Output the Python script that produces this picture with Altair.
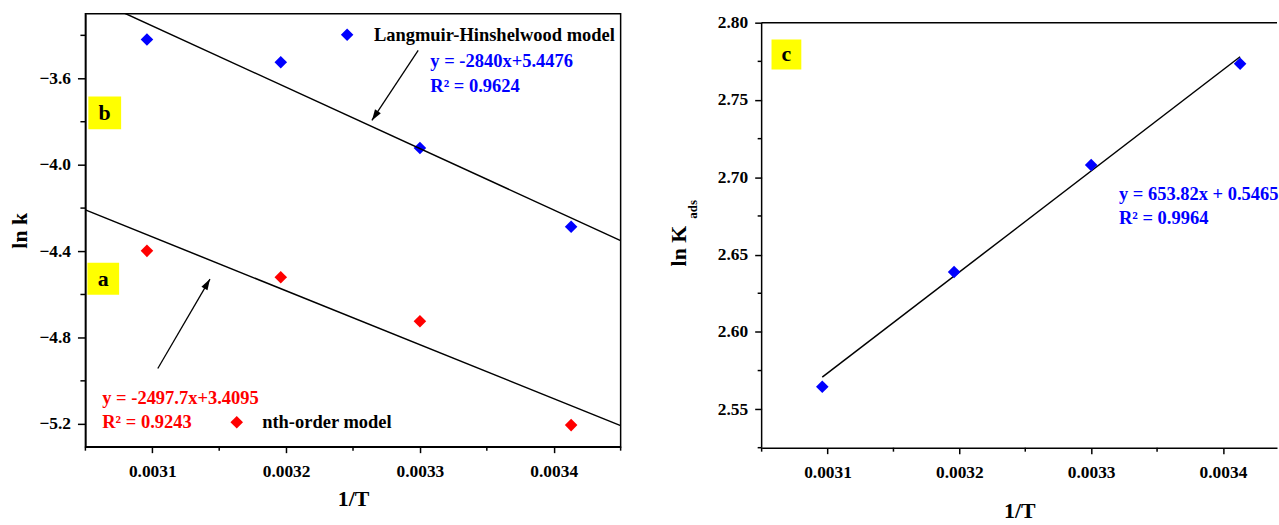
import altair as alt
import pandas as pd

FONT = "Liberation Serif"
BLUE = "#0000ff"
RED = "#ff0000"

# ---------------- data ----------------
inv_T = [0.003096, 0.003196, 0.003300, 0.003413]
lnk_LH = [-3.419, -3.525, -3.922, -4.286]
lnk_nth = [-4.398, -4.520, -4.724, -5.205]
lnK_ads = [2.5645, 2.6387, 2.708, 2.7734]

fit_LH = [-2840.0, 5.4476]
fit_nth = [-2497.7, 3.4095]
fit_ads = [653.82, 0.5465]

xdom_left = [0.00305, 0.00345]
ydom_left = [-5.305, -3.3]
xdom_right = [0.00305, 0.003441]
ydom_right = [2.5251, 2.8058]
right_top = 2.80

x_major = [0.0031, 0.0032, 0.0033, 0.0034]
x_minor_left = [0.00305, 0.00315, 0.00325, 0.00335, 0.00345]
x_minor_right = [0.00305, 0.00315, 0.00325, 0.00335]
yl_major = [-5.2, -4.8, -4.4, -4.0, -3.6]
yl_minor = [-5.0, -4.6, -4.2, -3.8, -3.4]
yr_major = [2.55, 2.60, 2.65, 2.70, 2.75, 2.80]
yr_minor = [2.5251, 2.575, 2.625, 2.675, 2.725, 2.775]

eq_LH = ["y = -2840x+5.4476", "R² = 0.9624"]
eq_nth = ["y = -2497.7x+3.4095", "R² = 0.9243"]
eq_ads = ["y = 653.82x + 0.5465", "R² = 0.9964"]

W_L, H_L = 539, 436
W_R, H_R = 519, 437
ANN = 18.6

# ---------------- helpers ----------------
def axis(values, fmt, tick, label_pad, title_pad, **kw):
    return alt.Axis(
        values=values, format=fmt, tickSize=tick,
        grid=False,
        domainColor="black", domainWidth=1.5,
        tickColor="black", tickWidth=1.5,
        labelFont=FONT, labelFontWeight="bold", labelFontSize=17.5, labelColor="black",
        labelPadding=label_pad,
        titleFont=FONT, titleFontWeight="bold", titleFontSize=22, titleColor="black",
        titlePadding=title_pad,
        **kw,
    )


xsL = alt.Scale(domain=xdom_left, nice=False, zero=False)
ysL = alt.Scale(domain=ydom_left, nice=False, zero=False)
xsR = alt.Scale(domain=xdom_right, nice=False, zero=False)
ysR = alt.Scale(domain=ydom_right, nice=False, zero=False)

XL = alt.X("x:Q", scale=xsL, title="1/T", axis=axis(x_major, ".4f", 6, 10, 9))
YL = alt.Y("y:Q", scale=ysL, title="ln k", axis=axis(yl_major, ".1f", 8, 7, 7))
XR = alt.X("x:Q", scale=xsR, title="1/T", axis=axis(x_major, ".4f", 6, 10, 20))
YR = alt.Y("y:Q", scale=ysR, title="ln K",
           axis=axis(yr_major, ".2f", 7, 7, 27, titleY=233.5, domain=False))


def txt(df, color, X, Y, size=ANN, align="left"):
    return alt.Chart(df).mark_text(font=FONT, fontWeight="bold", fontSize=size, color=color,
                                   align=align, baseline="middle").encode(x=X, y=Y, text="t:N")


def minor_y(vals, Y, length):
    return alt.Chart(pd.DataFrame({"y": vals})).mark_rule(color="black", strokeWidth=1.5).encode(
        y=Y, x=alt.value(0), x2=alt.value(-length))


def minor_x(vals, X, h, length):
    return alt.Chart(pd.DataFrame({"x": vals})).mark_rule(color="black", strokeWidth=1.5).encode(
        x=X, y=alt.value(h), y2=alt.value(h + length))


color_scale = alt.Scale(domain=["LH", "nth"], range=[BLUE, RED])

# ---------------- left panel ----------------
ptsL = pd.DataFrame({"x": inv_T + inv_T, "y": lnk_LH + lnk_nth, "m": ["LH"] * 4 + ["nth"] * 4})
points_left = alt.Chart(ptsL).mark_point(shape="diamond", filled=True, size=160, opacity=1).encode(
    x=XL, y=YL, color=alt.Color("m:N", scale=color_scale, legend=None))

linesL = pd.DataFrame({
    "x": xdom_left + xdom_left,
    "y": [fit_LH[0] * v + fit_LH[1] for v in xdom_left] + [fit_nth[0] * v + fit_nth[1] for v in xdom_left],
    "m": ["LH", "LH", "nth", "nth"],
})
lines_left = alt.Chart(linesL).mark_line(color="black", strokeWidth=1.5, clip=True).encode(
    x=XL, y=YL, detail="m:N")

boxesL = pd.DataFrame({
    "x": [0.0030522, 0.0030515], "x2": [0.0030767, 0.0030752],
    "y": [-3.683, -4.4537], "y2": [-3.8353, -4.6013],
})
boxes_left = alt.Chart(boxesL).mark_rect(color="#ffff00").encode(x=XL, x2="x2", y=YL, y2="y2")
letters_left = txt(pd.DataFrame({"x": [0.0030644, 0.0030633], "y": [-3.7592, -4.5275], "t": ["b", "a"]}),
                   "black", XL, YL, size=22, align="center")

legend_pts = pd.DataFrame({"x": [0.0032456, 0.0031631], "y": [-3.3969, -5.192], "m": ["LH", "nth"]})
legend_marks = alt.Chart(legend_pts).mark_point(shape="diamond", filled=True, size=160, opacity=1).encode(
    x=XL, y=YL, color=alt.Color("m:N", scale=color_scale, legend=None))
legend_txt = txt(pd.DataFrame({"x": [0.0032656, 0.0031821], "y": [-3.3969, -5.192],
                               "t": ["Langmuir-Hinshelwood model", "nth-order model"]}),
                 "black", XL, YL)
eqLH_txt = txt(pd.DataFrame({"x": [0.0033078, 0.0033078], "y": [-3.5192, -3.6369], "t": eq_LH}),
               BLUE, XL, YL)
eqnth_txt = txt(pd.DataFrame({"x": [0.0030626, 0.0030626], "y": [-5.0813, -5.1920], "t": eq_nth}),
                RED, XL, YL)

arrows = pd.DataFrame({
    "x": [0.0032987, 0.0032641, 0.0031041, 0.0031431],
    "y": [-3.4694, -3.7938, -4.9428, -4.5289],
    "a": ["1", "1", "2", "2"],
})
arrow_lines = alt.Chart(arrows).mark_line(color="black", strokeWidth=1.3).encode(x=XL, y=YL, detail="a:N")
heads = pd.DataFrame({"x": [0.0032641, 0.0031431], "y": [-3.7938, -4.5289], "ang": [213.6, 30.4]})
arrow_heads = alt.Chart(heads).mark_point(shape="M0,0L0.32,1L-0.32,1Z", filled=True, size=484,
                                          color="black", opacity=1).encode(
    x=XL, y=YL, angle=alt.Angle("ang:Q", scale=None))

left = alt.layer(
    points_left, boxes_left, letters_left, lines_left, legend_marks, legend_txt,
    eqLH_txt, eqnth_txt, arrow_lines, arrow_heads,
    minor_y(yl_minor, YL, 5), minor_x(x_minor_left, XL, H_L, 4),
).properties(width=W_L, height=H_L, view=alt.ViewBackground(stroke="black", strokeWidth=1.5))

# ---------------- right panel ----------------
ptsR = pd.DataFrame({"x": inv_T, "y": lnK_ads})
points_right = alt.Chart(ptsR).mark_point(shape="diamond", filled=True, size=160, color=BLUE,
                                          opacity=1).encode(x=XR, y=YR)
fx = [inv_T[0], inv_T[-1]]
linesR = pd.DataFrame({"x": fx, "y": [fit_ads[0] * v + fit_ads[1] for v in fx]})
line_right = alt.Chart(linesR).mark_line(color="black", strokeWidth=1.5).encode(x=XR, y=YR)
top_rule = alt.Chart(pd.DataFrame({"y": [right_top]})).mark_rule(color="black", strokeWidth=1.5).encode(y=YR)
left_rule = alt.Chart(pd.DataFrame({"y": [ydom_right[0]], "y2": [right_top]})).mark_rule(
    color="black", strokeWidth=1.5).encode(y=YR, y2="y2", x=alt.value(0))
box_c = alt.Chart(pd.DataFrame({"x": [0.0030575], "x2": [0.0030801], "y": [2.7891], "y2": [2.7698]})).mark_rect(
    color="#ffff00").encode(x=XR, x2="x2", y=YR, y2="y2")
letter_c = txt(pd.DataFrame({"x": [0.0030688], "y": [2.7795], "t": ["c"]}), "black", XR, YR,
               size=22, align="center")
eqads_txt = txt(pd.DataFrame({"x": [0.0033211, 0.0033211], "y": [2.6890, 2.6736], "t": eq_ads}),
                BLUE, XR, YR)
sub_ads = alt.Chart(pd.DataFrame({"t": ["ads"]})).mark_text(
    font=FONT, fontWeight="bold", fontSize=13, color="black", angle=270, align="center", baseline="middle"
).encode(x=alt.value(-69), y=alt.value(197), text="t:N")

right = alt.layer(
    box_c, letter_c, line_right, points_right, top_rule, left_rule, eqads_txt, sub_ads,
    minor_y(yr_minor, YR, 4), minor_x(x_minor_right, XR, H_R, 4),
).properties(width=W_R, height=H_R)

chart = alt.hconcat(left, right, spacing=44).properties(
    padding={"left": 8, "top": 11, "right": 0, "bottom": 0},
    background="white",
).configure_view(stroke="transparent")

chart.save("out.html", embed_options={"renderer": "svg", "actions": False})
